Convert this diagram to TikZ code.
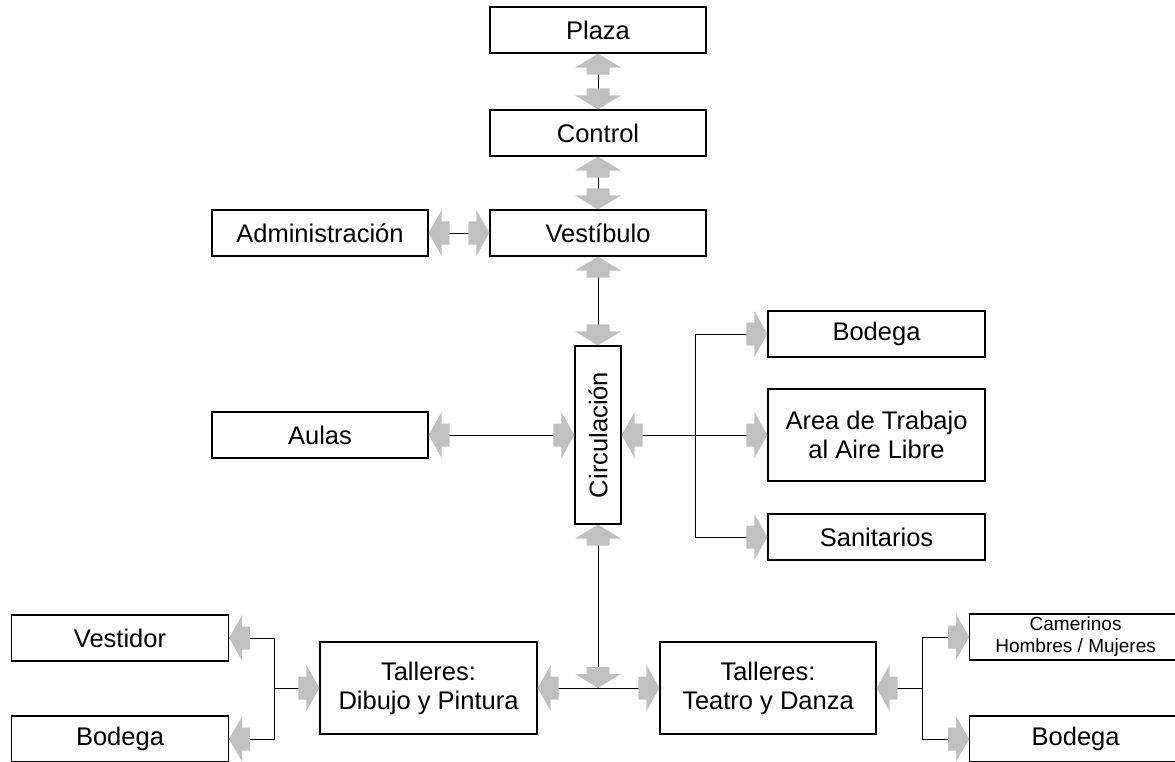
\documentclass[tikz,border=0pt]{standalone}
\usepackage{fontspec}
\setmainfont{Liberation Sans}
\definecolor{arrowgray}{RGB}{192,192,192}
\tikzset{
  box/.style={draw=black, line width=1.2pt, fill=white, minimum width=216pt,
    minimum height=46pt, inner sep=2pt, align=center,
    font=\fontsize{25.5}{29}\selectfont},
  tallbox/.style={box, minimum height=92pt},
  % boxes running past the right edge: text placed by a centred label
  edgebox/.style={draw=black, line width=1.2pt, fill=white, minimum width=240pt,
    minimum height=46pt, inner sep=0pt, anchor=west},
  edgetext/.style={xshift=-14pt, align=center, inner sep=0pt},
  conn/.style={draw=black, line width=1pt},
  % gray block arrowheads, tip at the pic origin (y grows downwards)
  arrR/.pic={\fill[arrowgray] (0,0) -- (-13,-23) -- (-13,-11.5) -- (-21,-11.5)
    -- (-21,11.5) -- (-13,11.5) -- (-13,23) -- cycle;},
  arrL/.pic={\fill[arrowgray] (0,0) -- (13,-23) -- (13,-11.5) -- (21,-11.5)
    -- (21,11.5) -- (13,11.5) -- (13,23) -- cycle;},
  arrD/.pic={\fill[arrowgray] (0,0) -- (-23,-14) -- (-11.5,-14) -- (-11.5,-21)
    -- (11.5,-21) -- (11.5,-14) -- (23,-14) -- cycle;},
  arrU/.pic={\fill[arrowgray] (0,0) -- (-23,14) -- (-11.5,14) -- (-11.5,21)
    -- (11.5,21) -- (11.5,14) -- (23,14) -- cycle;},
}
\begin{document}
\begin{tikzpicture}[x=1pt, y=-1pt]
\useasboundingbox (0,0) rectangle (1175,762);

% spaces
\node[box] (plaza)   at (598,30)  {Plaza};
\node[box] (control) at (598,133) {Control};
\node[box] (vest)    at (598,233) {Vestíbulo};
\node[box] (admin)   at (320,233) {Administración};
\node[box, minimum width=46pt, minimum height=178pt] (circ) at (598,435)
  {\rotatebox{90}{Circulación}};
\node[box, minimum width=217pt] (bod1) at (876.5,334) {Bodega};
\node[tallbox, minimum width=217pt] (area) at (876.5,435) {Area de Trabajo\\al Aire Libre};
\node[box, minimum width=217pt] (sanit) at (876.5,537) {Sanitarios};
\node[box] (aulas)   at (320,435) {Aulas};
\node[tallbox, minimum width=217pt] (dibujo) at (428.5,688) {Talleres:\\Dibujo y Pintura};
\node[tallbox] (teatro) at (768,688) {Talleres:\\Teatro y Danza};
\node[box, minimum width=217pt] (vestidor) at (120,638) {Vestidor};
\node[box, minimum width=217pt] (bod2) at (120,739) {Bodega};
\node[edgebox, label={[edgetext, font=\fontsize{19}{22}\selectfont]center:Camerinos\\Hombres / Mujeres}]
  (camer) at (969,637) {};
\node[edgebox, label={[edgetext, font=\fontsize{25.5}{29}\selectfont]center:Bodega}]
  (bod3) at (969,739) {};

% junction points of the branching connectors
\coordinate (rtrunk) at (695,435);
\coordinate (bj)     at (598,688);
\coordinate (ltrunk) at (274,688);
\coordinate (rbt)    at (922,688);

% connectors
\draw[conn] (plaza.south) -- (control.north);
\draw[conn] (control.south) -- (vest.north);
\draw[conn] (admin.east) -- (vest.west);
\draw[conn] (vest.south) -- (circ.north);
\draw[conn] (aulas.east) -- (circ.west);
\draw[conn] (circ.east) -- (area.west);
\draw[conn] (bod1.west) -| (rtrunk);
\draw[conn] (sanit.west) -| (rtrunk);
\draw[conn] (circ.south) -- (bj);
\draw[conn] (dibujo.east) -- (teatro.west);
\draw[conn] (dibujo.west) -- (ltrunk);
\draw[conn] (vestidor.east) -| (ltrunk);
\draw[conn] (bod2.east) -| (ltrunk);
\draw[conn] (teatro.east) -- (rbt);
\draw[conn] (camer.west) -| (rbt);
\draw[conn] (bod3.west) -| (rbt);

% arrowheads
\pic at (plaza.south) {arrU};
\pic at (control.north) {arrD};
\pic at (control.south) {arrU};
\pic at (vest.north) {arrD};
\pic at (admin.east) {arrL};
\pic at (vest.west) {arrR};
\pic at (vest.south) {arrU};
\pic at (circ.north) {arrD};
\pic at (aulas.east) {arrL};
\pic at (circ.west) {arrR};
\pic at (circ.east) {arrL};
\pic at (bod1.west) {arrR};
\pic at (area.west) {arrR};
\pic at (sanit.west) {arrR};
\pic at (circ.south) {arrU};
\pic at (bj) {arrD};
\pic at (dibujo.east) {arrL};
\pic at (teatro.west) {arrR};
\pic at (dibujo.west) {arrR};
\pic at (vestidor.east) {arrL};
\pic at (bod2.east) {arrL};
\pic at (teatro.east) {arrL};
\pic at (camer.west) {arrR};
\pic at (bod3.west) {arrR};
\end{tikzpicture}
\end{document}
